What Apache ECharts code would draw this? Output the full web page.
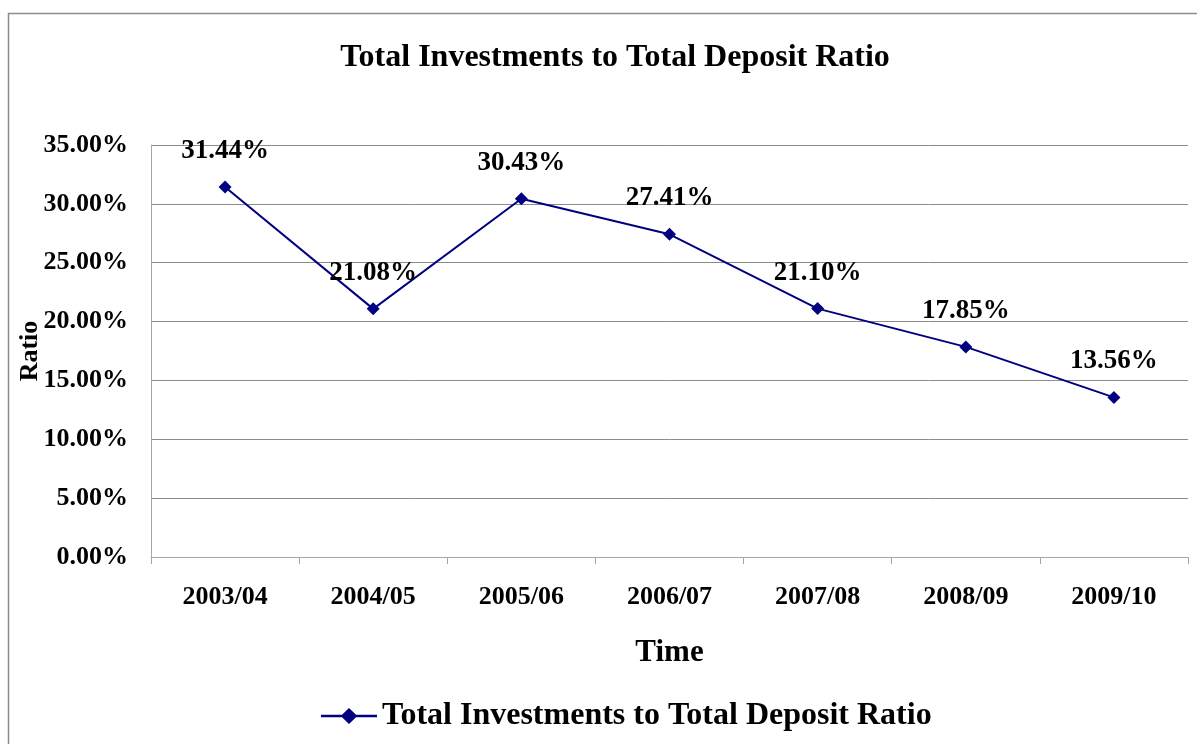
<!DOCTYPE html>
<html>
<head>
<meta charset="utf-8">
<script src="https://cdn.jsdelivr.net/npm/echarts@6/dist/echarts.min.js"></script>
<style>
  html, body { margin: 0; padding: 0; background: #fff; }
  #chart { width: 1197px; height: 744px; }
</style>
</head>
<body>
<div id="chart"></div>
<script>
// data
const periods = ['2003/04', '2004/05', '2005/06', '2006/07', '2007/08', '2008/09', '2009/10'];
const ratios = [31.44, 21.08, 30.43, 27.41, 21.10, 17.85, 13.56];
const seriesName = 'Total Investments to Total Deposit Ratio';

const serif = '"Liberation Serif", "Times New Roman", serif';
const chart = echarts.init(document.getElementById('chart'));

const option = {
    backgroundColor: '#fff',
    animation: false,
    title: {
        text: 'Total Investments to Total Deposit Ratio',
        left: 610,
        textAlign: 'center',
        top: 37,
        textStyle: { fontFamily: serif, fontWeight: 'bold', fontSize: 32, color: '#000' }
    },
    graphic: [{
        type: 'rect',
        shape: { x: 8.5, y: 13.5, width: 1200, height: 740 },
        style: { fill: 'none', stroke: '#8c8c8c', lineWidth: 1.5 },
        silent: true
    }],
    legend: {
        left: 316,
        top: 695,
        itemWidth: 56,
        itemHeight: 16,
        itemGap: 9,
        // line with a diamond in the middle
        icon: 'path://M0,6.8L21,6.8L28,0L35,6.8L56,6.8L56,9.2L35,9.2L28,16L21,9.2L0,9.2Z',
        itemStyle: { color: '#000080' },
        textStyle: { fontFamily: serif, fontWeight: 'bold', fontSize: 32, color: '#000' },
        data: [seriesName]
    },
    grid: { left: 151, right: 9, top: 145, bottom: 187 },
    xAxis: {
        type: 'category',
        data: periods,
        boundaryGap: true,
        name: 'Time',
        nameLocation: 'middle',
        nameGap: 80,
        nameTextStyle: { fontFamily: serif, fontWeight: 'bold', fontSize: 31, color: '#000' },
        axisLine: { lineStyle: { color: '#a6a6a6', width: 1 } },
        axisTick: { show: true, length: 7, lineStyle: { color: '#a6a6a6' } },
        axisLabel: { margin: 27, fontFamily: serif, fontWeight: 'bold', fontSize: 26, color: '#000' }
    },
    yAxis: {
        type: 'value',
        min: 0,
        max: 35,
        interval: 5,
        name: 'Ratio',
        nameLocation: 'middle',
        nameGap: 108,
        nameMoveOverlap: false,
        nameRotate: 90,
        nameTextStyle: { fontFamily: serif, fontWeight: 'bold', fontSize: 26, color: '#000' },
        axisLine: { show: true, lineStyle: { color: '#a6a6a6', width: 1 } },
        axisTick: { show: false },
        splitLine: { lineStyle: { color: '#8c8c8c', width: 1 } },
        axisLabel: {
            margin: 23,
            fontFamily: serif, fontWeight: 'bold', fontSize: 26, color: '#000',
            formatter: v => v.toFixed(2) + '%'
        }
    },
    series: [{
        name: seriesName,
        type: 'line',
        data: ratios,
        color: '#000080',
        lineStyle: { color: '#000080', width: 2 },
        itemStyle: { color: '#000080' },
        symbol: 'diamond',
        symbolSize: 13,
        label: {
            show: true,
            position: 'top',
            distance: 16,
            fontFamily: serif, fontWeight: 'bold', fontSize: 27, color: '#000',
            formatter: p => p.value.toFixed(2) + '%'
        }
    }]
};

chart.setOption(option);
</script>
</body>
</html>
